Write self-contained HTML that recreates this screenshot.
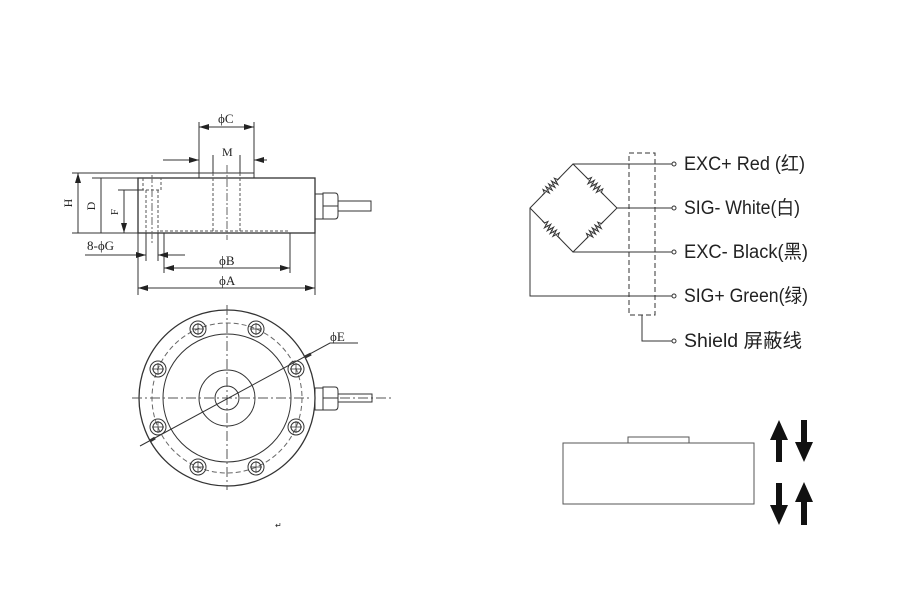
<!DOCTYPE html>
<html><head><meta charset="utf-8"><style>
html,body{margin:0;padding:0;background:#fff;width:900px;height:590px;overflow:hidden}
svg{display:block}
text{font-family:"Liberation Serif",serif;fill:#222}
.w{font-family:"Liberation Sans","Noto Sans CJK SC",sans-serif;font-size:19px;fill:#222}
</style></head><body>
<svg width="900" height="590" viewBox="0 0 900 590" xmlns="http://www.w3.org/2000/svg">
<defs>
<marker id="a" viewBox="0 0 10 6" refX="10" refY="3" markerWidth="10" markerHeight="6" orient="auto-start-reverse" markerUnits="userSpaceOnUse"><path d="M0,0L10,3L0,6z" fill="#222"/></marker>
<g id="b" stroke="#333" fill="none"><circle r="8"/><circle r="5"/><path d="M-6,0h12M0,-6v12" stroke-width=".7"/></g>
<path id="r" d="M-13,0h3l1.5,-3.5l2,7l2,-7l2,7l2,-7l2,7l2,-7l2,7l2,-7l1.5,3.5h3" fill="#fff" stroke="#333"/>
</defs>
<g stroke="#333" fill="none" stroke-width="1">
<!-- side view body -->
<rect x="138" y="178" width="177" height="55" stroke-width="1.3"/>
<rect x="199" y="173" width="55" height="5"/>
<path d="M315,194h8v25h-8z M323,193h12q3,0 3,4v18q0,4 -3,4h-12z M323,206h15 M338,201h33v10h-33"/>
<g stroke-dasharray="3,2" stroke="#555">
<path d="M143,178v12h18v-12 M146,190v43 M158,190v43 M213,173v60 M240,173v60 M160,231h130"/>
</g>
<path d="M152,175v70 M227,165v75" stroke-dasharray="8,2,2,2" stroke="#666"/>
<!-- dims -->
<path d="M72,173h127 M92,178h46 M118,190h25 M72,233h66"/>
<path d="M78,173v60 M101,178v55 M124,190v43" marker-start="url(#a)" marker-end="url(#a)"/>
<path d="M199,122v51 M254,122v51 M213,155v18 M240,155v18"/>
<path d="M199,127h55" marker-start="url(#a)" marker-end="url(#a)"/>
<path d="M163,160h36" marker-end="url(#a)"/><path d="M267,160h-13" marker-end="url(#a)"/>
<path d="M138,233v62 M315,233v62 M146,233v28 M158,233v28 M164,233v40 M290,233v40"/>
<path d="M85,255h61" marker-end="url(#a)"/><path d="M185,255h-27" marker-end="url(#a)"/>
<path d="M164,268h126" marker-start="url(#a)" marker-end="url(#a)"/>
<path d="M138,288h177" marker-start="url(#a)" marker-end="url(#a)"/>
<!-- top view -->
<circle cx="227" cy="398" r="88" stroke-width="1.3"/>
<circle cx="227" cy="398" r="64"/>
<circle cx="227" cy="398" r="75" stroke-dasharray="5,3" stroke="#666"/>
<circle cx="227" cy="398" r="28"/>
<circle cx="227" cy="398" r="12"/>
<path d="M132,398h180 M340,398h52 M227,305v185" stroke-dasharray="10,3,2,3" stroke="#555"/>
<path d="M140,446L330,343h28" />
<path d="M155,438L150,441 M305,357L311,354" stroke-width="3"/>
<path d="M315,388h8v22h-8z M323,387h12q3,0 3,4v15q0,4 -3,4h-12z M323,398h15 M338,394h34v8h-34"/>
<!-- wiring -->
<path d="M573,164h99 M617,208h55 M573,252h99 M530,208v88h142 M642,315v26h30"/>
<path d="M573,164L530,208L573,252L617,208Z"/>
<rect x="629" y="153" width="26" height="162" stroke-dasharray="5,3"/>
</g>
<use href="#b" x="198" y="329"/><use href="#b" x="256" y="329"/>
<use href="#b" x="158" y="369"/><use href="#b" x="296" y="369"/>
<use href="#b" x="158" y="427"/><use href="#b" x="296" y="427"/>
<use href="#b" x="198" y="467"/><use href="#b" x="256" y="467"/>
<use href="#r" transform="translate(551.5,186) rotate(-45)"/>
<use href="#r" transform="translate(595,186) rotate(45)"/>
<use href="#r" transform="translate(551.5,230) rotate(45)"/>
<use href="#r" transform="translate(595,230) rotate(-45)"/>
<g fill="#fff" stroke="#333">
<circle cx="674" cy="164" r="2"/><circle cx="674" cy="208" r="2"/><circle cx="674" cy="252" r="2"/><circle cx="674" cy="296" r="2"/><circle cx="674" cy="341" r="2"/>
</g>
<text class="w" x="684" y="170" textLength="121" lengthAdjust="spacingAndGlyphs">EXC+ Red  (红)</text>
<text class="w" x="684" y="214" textLength="116" lengthAdjust="spacingAndGlyphs">SIG- White(白)</text>
<text class="w" x="684" y="258" textLength="124" lengthAdjust="spacingAndGlyphs">EXC- Black(黑)</text>
<text class="w" x="684" y="302" textLength="124" lengthAdjust="spacingAndGlyphs">SIG+ Green(绿)</text>
<text class="w" x="684" y="347" textLength="118" lengthAdjust="spacingAndGlyphs">Shield   屏蔽线</text>
<!-- labels -->
<text x="218" y="123" font-size="13">ϕC</text>
<text x="222" y="156" font-size="12">M</text>
<text x="87" y="250" font-size="13">8-ϕG</text>
<text x="219" y="265" font-size="13">ϕB</text>
<text x="219" y="285" font-size="13">ϕA</text>
<text x="330" y="341" font-size="13">ϕE</text>
<text font-size="12" transform="translate(72,203) rotate(-90)" text-anchor="middle">H</text>
<text font-size="12" transform="translate(95,206) rotate(-90)" text-anchor="middle">D</text>
<text font-size="11" transform="translate(118,212) rotate(-90)" text-anchor="middle">F</text>
<text x="275" y="528" font-size="8">↵</text>
<!-- bottom right -->
<rect x="563" y="443" width="191" height="61" fill="none" stroke="#555"/>
<rect x="628" y="437" width="61" height="6" fill="none" stroke="#555"/>
<g fill="#111">
<path d="M770,440l9,-20l9,20h-6v22h-6v-22z"/>
<path d="M795,442l9,20l9,-20h-6v-22h-6v22z"/>
<path d="M770,505l9,20l9,-20h-6v-22h-6v22z"/>
<path d="M795,502l9,-20l9,20h-6v23h-6v-23z"/>
</g>
</svg>
</body></html>
